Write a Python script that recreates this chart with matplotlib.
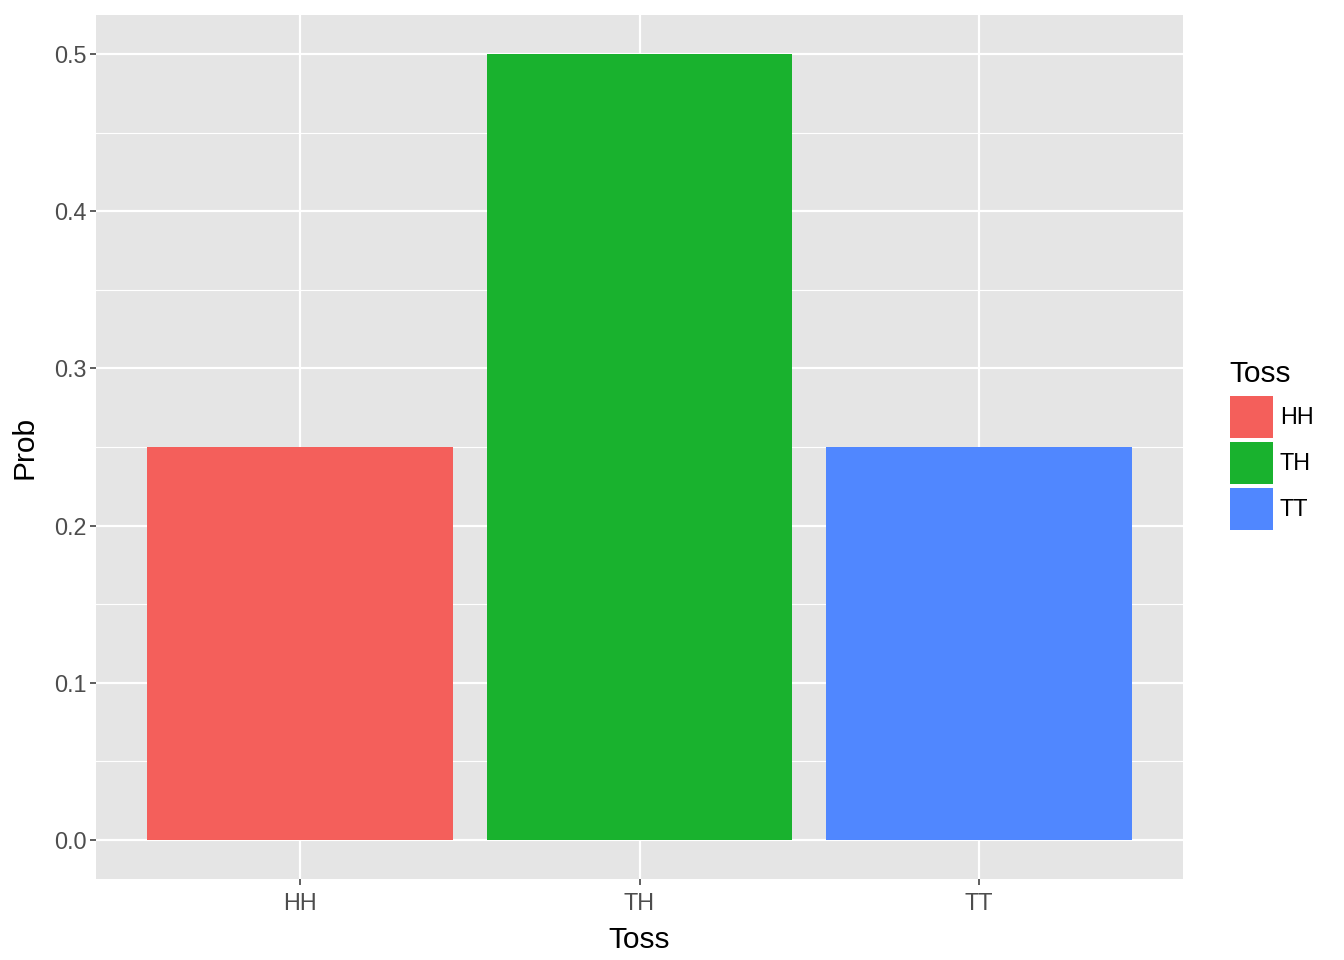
import matplotlib
matplotlib.use("Agg")
import matplotlib.pyplot as plt
from matplotlib.patches import Rectangle
import numpy as np

categories = ["HH", "TH", "TT"]
probs = [0.25, 0.5, 0.25]
colors = ["#F45F5B", "#19B22E", "#5087FF"]
yticks = [0.0, 0.1, 0.2, 0.3, 0.4, 0.5]
ytick_labels = ["0.0", "0.1", "0.2", "0.3", "0.4", "0.5"]
minor_yticks = [0.05, 0.15, 0.25, 0.35, 0.45]

plt.rcParams['font.family'] = ['Liberation Sans', 'DejaVu Sans']

W, H = 1344, 960
fig = plt.figure(figsize=(W / 100, H / 100), dpi=100)
ax = fig.add_axes([96 / W, 1 - 879 / H, (1183 - 96) / W, (879 - 15) / H])
ax.set_facecolor("#E5E5E5")
for s in ax.spines.values():
    s.set_visible(False)

x = np.arange(len(categories))
ax.set_xlim(-0.6, len(categories) - 0.4)
ax.set_ylim(-0.025, 0.525)

ax.set_yticks(yticks)
ax.set_yticklabels(ytick_labels)
ax.set_yticks(minor_yticks, minor=True)
ax.set_xticks(x)
ax.set_xticklabels(categories)

ax.grid(which="major", color="white", linewidth=1.55)
ax.grid(which="minor", axis="y", color="white", linewidth=0.78)
ax.set_axisbelow(True)
ax.tick_params(which="major", length=4, width=1.1, color="#333333",
               labelcolor="#4D4D4D", labelsize=16.8)
ax.tick_params(axis="x", which="major", pad=5)
ax.tick_params(axis="y", which="major", pad=3)
ax.tick_params(which="minor", length=0)

ax.bar(x, probs, width=0.9, color=colors, zorder=2)

ax.set_xlabel("Toss", fontsize=21.5, color="black", labelpad=8)
ax.set_ylabel("Prob", fontsize=21.5, color="black", labelpad=11)

# legend
fig.text(1229 / W, 1 - 374 / H, "Toss", fontsize=21.5, va="center", ha="left")
key_top = 396
key_h = 42
gap = 4
for i, (cat, col) in enumerate(zip(categories, colors)):
    top = key_top + i * (key_h + gap)
    fig.add_artist(Rectangle((1230 / W, 1 - (top + key_h) / H), 43 / W, key_h / H,
                             transform=fig.transFigure, facecolor=col, edgecolor="none"))
    fig.text(1280 / W, 1 - (top + key_h / 2) / H, cat, fontsize=16.8,
             va="center", ha="left")

fig.savefig("out.png", dpi=100)
